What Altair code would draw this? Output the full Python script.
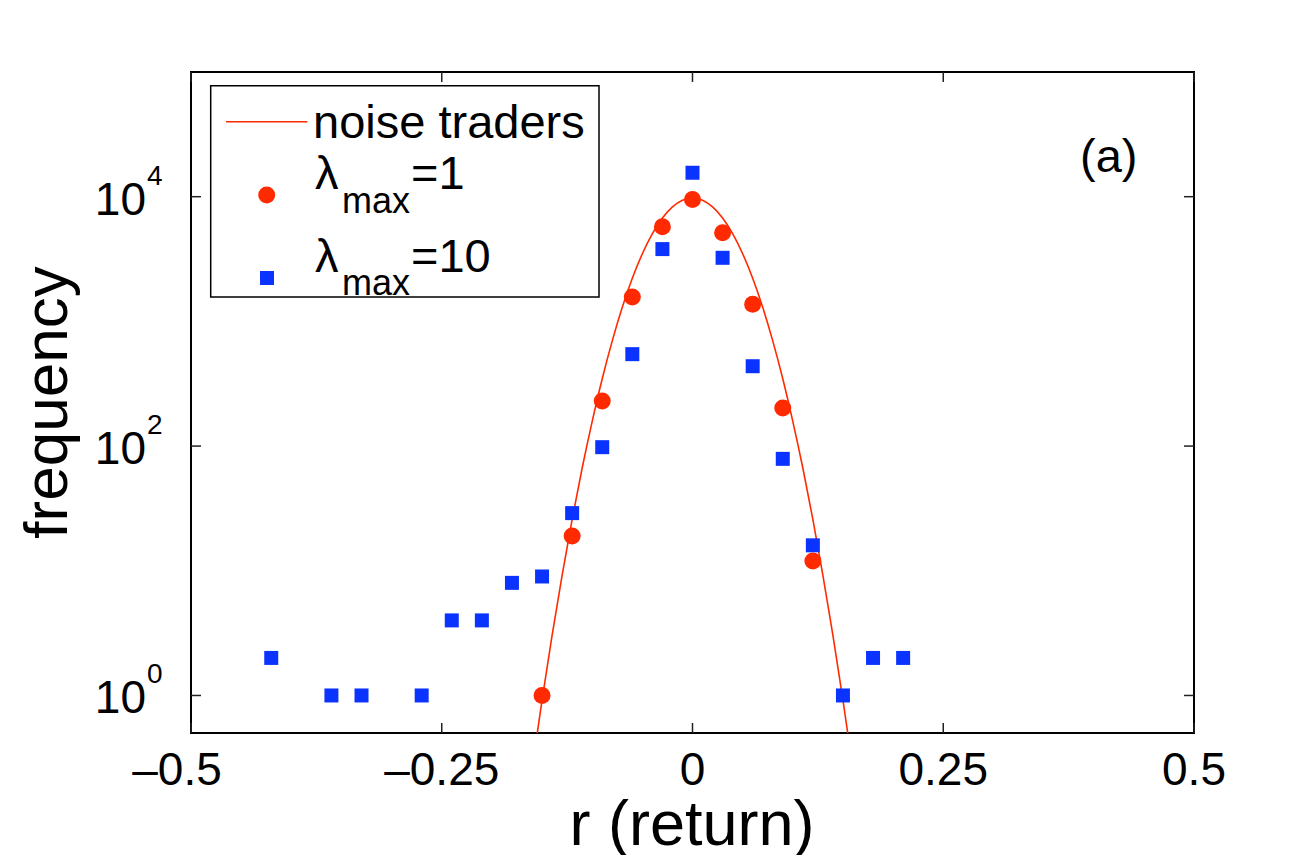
import altair as alt
import pandas as pd

# ---------------- data ----------------
# noise traders curve
curve_r = [-0.16, -0.15, -0.14, -0.13, -0.12, -0.11, -0.10, -0.09, -0.08, -0.07, -0.06,
           -0.05, -0.04, -0.03, -0.02, -0.01, 0.0, 0.01, 0.02, 0.03, 0.04, 0.05, 0.06,
           0.07, 0.08, 0.09, 0.10, 0.11, 0.12, 0.13, 0.14, 0.15, 0.16]
curve_f = [0.256, 0.917, 3.03, 9.2, 25.8, 66.7, 158, 347, 698, 1297, 2218,
           3489, 5058, 6745, 8279, 9376, 9772, 9376, 8279, 6745, 5058, 3489, 2218,
           1297, 698, 347, 158, 66.7, 25.8, 9.2, 3.03, 0.917, 0.256]

# lambda_max = 1 (red circles)
red_r = [-0.15, -0.12, -0.09, -0.06, -0.03, 0.0, 0.03, 0.06, 0.09, 0.12]
red_f = [1, 19, 230, 1570, 5730, 9500, 5130, 1370, 202, 12]

# lambda_max = 10 (blue squares)
blue_r = [-0.42, -0.36, -0.33, -0.27, -0.24, -0.21, -0.18, -0.15, -0.12, -0.09, -0.06,
          -0.03, 0.0, 0.03, 0.06, 0.09, 0.12, 0.15, 0.18, 0.21]
blue_f = [2, 1, 1, 1, 4, 4, 8, 9, 29, 98, 546,
          3800, 15560, 3235, 437, 79, 16, 1, 2, 2]

x_ticks = [-0.5, -0.25, 0.0, 0.25, 0.5]
x_tick_labels = ["\u20130.5", "\u20130.25", "0", "0.25", "0.5"]
y_ticks = [1, 100, 10000]
y_tick_base = ["10", "10", "10"]
y_tick_exp = ["0", "2", "4"]

# ---------------- styling ----------------
W, H = 1003, 661
FONT = "Liberation Sans"
RED = "#ff2a00"
BLUE = "#0b33ff"
TICKC = "#222222"

x_scale = alt.Scale(domain=[-0.5, 0.5], nice=False, zero=False)
y_scale = alt.Scale(type="log", domain=[0.5, 1e5], nice=False)

curve_df = pd.DataFrame({"r": curve_r, "f": curve_f})
red_df = pd.DataFrame({"r": red_r, "f": red_f})
blue_df = pd.DataFrame({"r": blue_r, "f": blue_f})
xt_df = pd.DataFrame({"v": x_ticks, "lab": x_tick_labels, "i": list(range(len(x_ticks)))})
yt_df = pd.DataFrame({"v": y_ticks, "base": y_tick_base, "exp": y_tick_exp})
one = pd.DataFrame({"k": [0]})

X = lambda f: alt.X(f, scale=x_scale, axis=None)
Y = lambda f: alt.Y(f, scale=y_scale, axis=None)

curve = alt.Chart(curve_df).mark_line(
    color=RED, strokeWidth=1.6, clip=True, interpolate="monotone"
).encode(x=X("r:Q"), y=Y("f:Q"))

red_pts = alt.Chart(red_df).mark_point(
    shape="circle", filled=True, size=289, color=RED, opacity=1
).encode(x=X("r:Q"), y=Y("f:Q"))

blue_pts = alt.Chart(blue_df).mark_point(
    shape="square", filled=True, size=196, color=BLUE, opacity=1
).encode(x=X("r:Q"), y=Y("f:Q"))

# inward ticks on all four sides
tick_b = alt.Chart(xt_df).mark_rule(color=TICKC, strokeWidth=1.5).encode(
    x=X("v:Q"), y=alt.value(H), y2=alt.value(H - 10))
tick_t = alt.Chart(xt_df).mark_rule(color=TICKC, strokeWidth=1.5).encode(
    x=X("v:Q"), y=alt.value(0), y2=alt.value(10))
tick_l = alt.Chart(yt_df).mark_rule(color=TICKC, strokeWidth=1.5).encode(
    y=Y("v:Q"), x=alt.value(0), x2=alt.value(10))
tick_r = alt.Chart(yt_df).mark_rule(color=TICKC, strokeWidth=1.5).encode(
    y=Y("v:Q"), x=alt.value(W - 10), x2=alt.value(W))

# tick labels
xlab_main = alt.Chart(xt_df).transform_filter("datum.i > 0").mark_text(
    font=FONT, fontSize=46, align="center", baseline="alphabetic", color="black"
).encode(x=X("v:Q"), y=alt.value(H + 52), text="lab:N")
xlab_first = alt.Chart(xt_df).transform_filter("datum.i == 0").mark_text(
    font=FONT, fontSize=46, align="center", baseline="alphabetic", color="black", dx=-14
).encode(x=X("v:Q"), y=alt.value(H + 52), text="lab:N")

ylab_base = alt.Chart(yt_df).mark_text(
    font=FONT, fontSize=46, align="right", baseline="alphabetic", color="black", dy=18
).encode(y=Y("v:Q"), x=alt.value(-45), text="base:N")
ylab_exp = alt.Chart(yt_df).mark_text(
    font=FONT, fontSize=28, align="left", baseline="alphabetic", color="black", dy=-12
).encode(y=Y("v:Q"), x=alt.value(-44), text="exp:N")

# axis titles
xtitle = alt.Chart(one).mark_text(
    font=FONT, fontSize=63, align="center", baseline="alphabetic", color="black",
    text="r (return)"
).encode(x=alt.value(501), y=alt.value(773))
ytitle = alt.Chart(one).mark_text(
    font=FONT, fontSize=62, align="center", baseline="alphabetic", color="black",
    angle=270, text="frequency"
).encode(x=alt.value(-124), y=alt.value(330.5))

panel = alt.Chart(one).mark_text(
    font=FONT, fontSize=47, align="left", baseline="alphabetic", color="black",
    text="(a)"
).encode(x=alt.value(889), y=alt.value(100))

# legend
leg_box = alt.Chart(one).mark_rect(fill="white", stroke="black", strokeWidth=1.5).encode(
    x=alt.value(19.7), x2=alt.value(408), y=alt.value(13.7), y2=alt.value(225))
leg_line = alt.Chart(one).mark_rule(color=RED, strokeWidth=1.6).encode(
    x=alt.value(35), x2=alt.value(116.3), y=alt.value(49.7))
leg_t1 = alt.Chart(one).mark_text(font=FONT, fontSize=47, align="left",
                                  baseline="alphabetic", color="black",
                                  text="noise traders").encode(
    x=alt.value(122), y=alt.value(66.3))
leg_circ = alt.Chart(one).mark_point(shape="circle", filled=True, size=289,
                                     color=RED, opacity=1).encode(
    x=alt.value(75.7), y=alt.value(123))
leg_sq = alt.Chart(one).mark_point(shape="square", filled=True, size=196,
                                   color=BLUE, opacity=1).encode(
    x=alt.value(76), y=alt.value(206))

def lam_entry(base_y, value_text):
    lam = alt.Chart(one).mark_text(font=FONT, fontSize=47, align="left",
                                   baseline="alphabetic", color="black",
                                   text="\u03bb").encode(
        x=alt.value(124), y=alt.value(base_y))
    sub = alt.Chart(one).mark_text(font=FONT, fontSize=36, align="left",
                                   baseline="alphabetic", color="black",
                                   text="max").encode(
        x=alt.value(151), y=alt.value(base_y + 23.5))
    val = alt.Chart(one).mark_text(font=FONT, fontSize=47, align="left",
                                   baseline="alphabetic", color="black",
                                   text=value_text).encode(
        x=alt.value(220), y=alt.value(base_y))
    return [lam, sub, val]

layers = [curve, red_pts, blue_pts, tick_b, tick_t, tick_l, tick_r,
          xlab_main, xlab_first, ylab_base, ylab_exp, xtitle, ytitle, panel,
          leg_box, leg_line, leg_t1, leg_circ, leg_sq]
layers += lam_entry(117, "=1")
layers += lam_entry(199.7, "=10")

chart = alt.layer(*layers).properties(
    width=W, height=H,
    autosize=alt.AutoSizeParams(type="none"),
    padding={"left": 183, "top": 64, "right": 95, "bottom": 122},
    background="white",
).configure_view(stroke="black", strokeWidth=2)

chart.save("out.html", embed_options={"renderer": "svg", "actions": False})
